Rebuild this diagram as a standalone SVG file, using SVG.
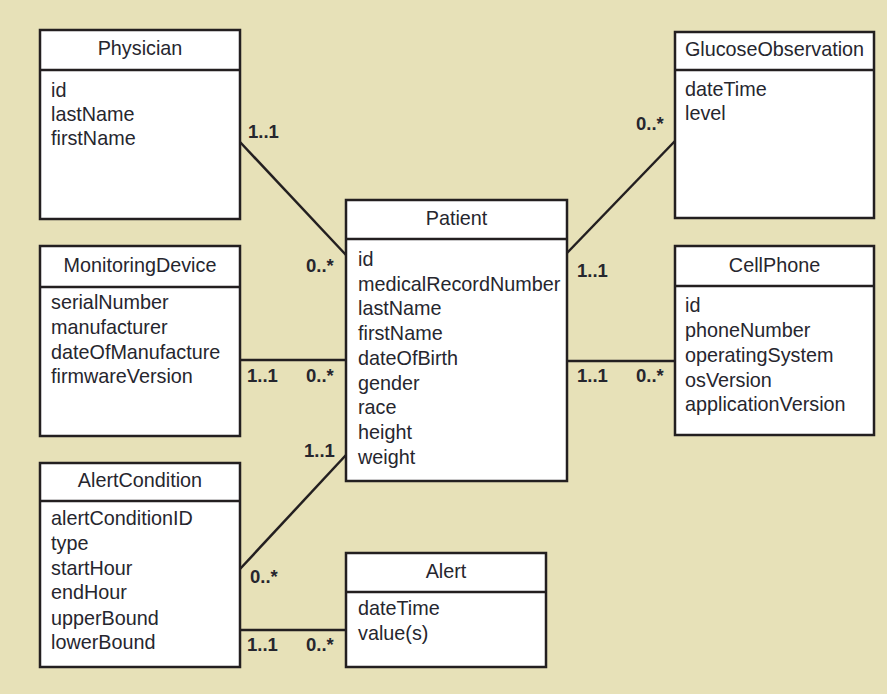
<svg xmlns="http://www.w3.org/2000/svg" width="887" height="694" viewBox="0 0 887 694">
  <style>
    .box { fill: #ffffff; stroke: #231f20; stroke-width: 2.5; }
    .div { stroke: #231f20; stroke-width: 2.5; }
    .title { font-family: "Liberation Sans", Arial, sans-serif; font-size: 19.8px; fill: #26262e; text-anchor: middle; }
    .attr { font-family: "Liberation Sans", Arial, sans-serif; font-size: 19.8px; fill: #26262e; }
    .conn line { stroke: #231f20; stroke-width: 2.5; }
    .mult { font-family: "Liberation Sans", Arial, sans-serif; font-size: 18.5px; font-weight: bold; fill: #26262e; }
  </style>
  <rect x="0" y="0" width="887" height="694" fill="#e7e1b8"/>

  <!-- associations -->
  <g id="connectors" class="conn">
    <line x1="240" y1="142" x2="346" y2="255"/>
    <line x1="240" y1="360" x2="346" y2="360"/>
    <line x1="240" y1="569" x2="346" y2="455"/>
    <line x1="240" y1="630" x2="346" y2="630"/>
    <line x1="567" y1="253" x2="675" y2="141"/>
    <line x1="567" y1="361" x2="675" y2="361"/>
  </g>

  <!-- multiplicities -->
  <g id="multiplicities" class="mult">
    <text x="248" y="138">1..1</text>
    <text x="306" y="272">0..*</text>
    <text x="247" y="382">1..1</text>
    <text x="306" y="382">0..*</text>
    <text x="304" y="457">1..1</text>
    <text x="250" y="583">0..*</text>
    <text x="247" y="651">1..1</text>
    <text x="306" y="651">0..*</text>
    <text x="636" y="130">0..*</text>
    <text x="577" y="277">1..1</text>
    <text x="577" y="382">1..1</text>
    <text x="636" y="382">0..*</text>
  </g>

  <g id="physician">
    <rect class="box" x="40" y="30" width="200" height="189"/>
    <line class="div" x1="40" y1="70" x2="240" y2="70"/>
    <text class="title" x="140" y="55">Physician</text>
    <text class="attr" x="51" y="97">id</text>
    <text class="attr" x="51" y="121">lastName</text>
    <text class="attr" x="51" y="145">firstName</text>
  </g>

  <g id="monitoring-device">
    <rect class="box" x="40" y="246" width="200" height="190"/>
    <line class="div" x1="40" y1="287" x2="240" y2="287"/>
    <text class="title" x="140" y="272">MonitoringDevice</text>
    <text class="attr" x="51" y="309">serialNumber</text>
    <text class="attr" x="51" y="334">manufacturer</text>
    <text class="attr" x="51" y="359">dateOfManufacture</text>
    <text class="attr" x="51" y="383">firmwareVersion</text>
  </g>

  <g id="alert-condition">
    <rect class="box" x="40" y="463" width="200" height="204"/>
    <line class="div" x1="40" y1="501" x2="240" y2="501"/>
    <text class="title" x="140" y="487">AlertCondition</text>
    <text class="attr" x="51" y="525">alertConditionID</text>
    <text class="attr" x="51" y="550">type</text>
    <text class="attr" x="51" y="575">startHour</text>
    <text class="attr" x="51" y="599">endHour</text>
    <text class="attr" x="51" y="625">upperBound</text>
    <text class="attr" x="51" y="649">lowerBound</text>
  </g>

  <g id="patient">
    <rect class="box" x="346" y="200" width="221" height="281"/>
    <line class="div" x1="346" y1="239" x2="567" y2="239"/>
    <text class="title" x="456.5" y="225">Patient</text>
    <text class="attr" x="358" y="266">id</text>
    <text class="attr" x="358" y="291">medicalRecordNumber</text>
    <text class="attr" x="358" y="315">lastName</text>
    <text class="attr" x="358" y="340">firstName</text>
    <text class="attr" x="358" y="365">dateOfBirth</text>
    <text class="attr" x="358" y="390">gender</text>
    <text class="attr" x="358" y="414">race</text>
    <text class="attr" x="358" y="439">height</text>
    <text class="attr" x="358" y="464">weight</text>
  </g>

  <g id="alert">
    <rect class="box" x="346" y="553" width="200" height="114"/>
    <line class="div" x1="346" y1="592" x2="546" y2="592"/>
    <text class="title" x="446" y="578">Alert</text>
    <text class="attr" x="358" y="615">dateTime</text>
    <text class="attr" x="358" y="640">value(s)</text>
  </g>

  <g id="glucose-observation">
    <rect class="box" x="675" y="32" width="199" height="186"/>
    <line class="div" x1="675" y1="70" x2="874" y2="70"/>
    <text class="title" x="774.5" y="56">GlucoseObservation</text>
    <text class="attr" x="685" y="96">dateTime</text>
    <text class="attr" x="685" y="120">level</text>
  </g>

  <g id="cell-phone">
    <rect class="box" x="675" y="246" width="199" height="189"/>
    <line class="div" x1="675" y1="286" x2="874" y2="286"/>
    <text class="title" x="774.5" y="272">CellPhone</text>
    <text class="attr" x="685" y="312">id</text>
    <text class="attr" x="685" y="337">phoneNumber</text>
    <text class="attr" x="685" y="362">operatingSystem</text>
    <text class="attr" x="685" y="387">osVersion</text>
    <text class="attr" x="685" y="411">applicationVersion</text>
  </g>
</svg>
